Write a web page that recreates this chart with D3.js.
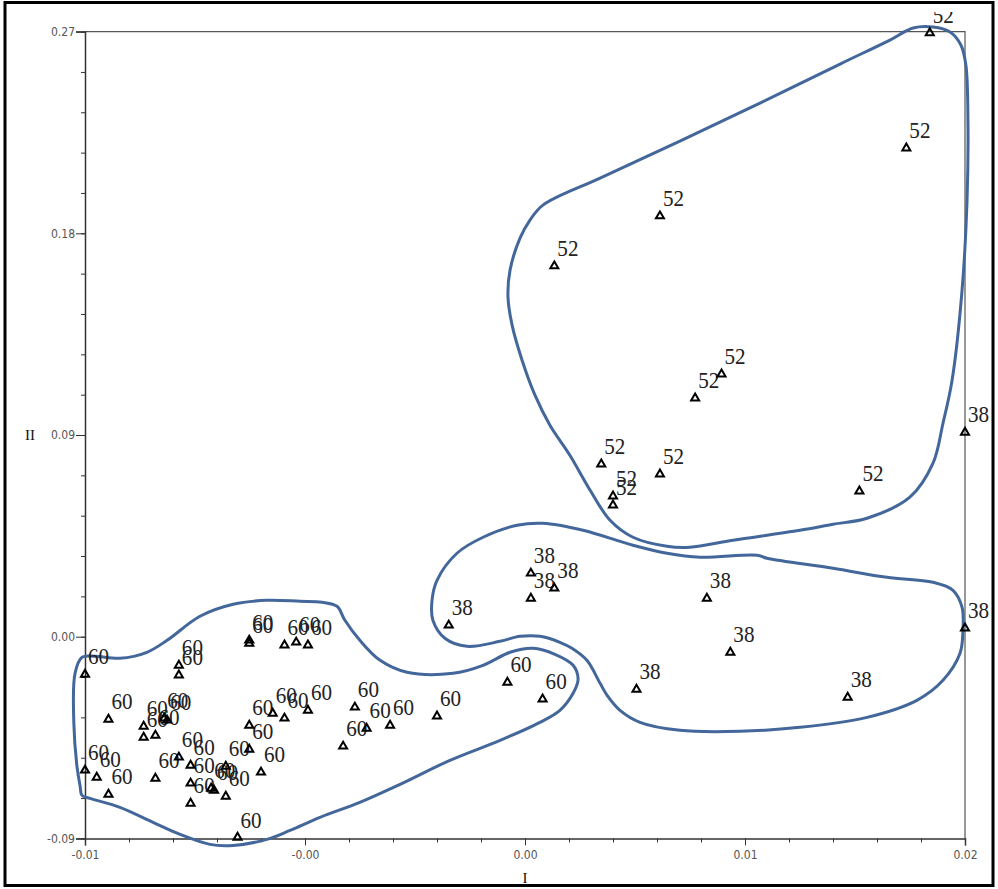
<!DOCTYPE html>
<html>
<head>
<meta charset="utf-8">
<script src="https://cdn.jsdelivr.net/npm/d3@7"></script>
<style>
  body { margin: 0; background: #fff; }
  .tick text { font-family: "Liberation Sans Narrow", "DejaVu Sans Condensed", sans-serif; font-size: 12px; fill: #555; }
  .axis path, .axis line { stroke: #333; }
  .lbl { font-family: "Liberation Serif", "DejaVu Serif", serif; font-size: 24px; fill: #222; }
  .title { font-family: "Liberation Serif", serif; font-size: 15px; fill: #111; }
</style>
</head>
<body>
<svg width="998" height="889"></svg>
<script>
// scores on axes I and II, grouped by label
var group60 = [
  [-0.0100, -0.0168], [-0.0092, -0.0369], [-0.0080, -0.0400], [-0.0080, -0.0449],
  [-0.0076, -0.0440], [-0.0073, -0.0364], [-0.0072, -0.0373], [-0.0068, -0.0128],
  [-0.0068, -0.0172], [-0.0100, -0.0596], [-0.0096, -0.0628], [-0.0092, -0.0704],
  [-0.0076, -0.0632], [-0.0068, -0.0538], [-0.0064, -0.0574], [-0.0064, -0.0654],
  [-0.0064, -0.0744], [-0.0056, -0.0686], [-0.0057, -0.0677], [-0.0052, -0.0579],
  [-0.0052, -0.0713], [-0.0044, -0.0396], [-0.0044, -0.0503], [-0.0040, -0.0605],
  [-0.0048, -0.0896], [-0.0044, -0.0016], [-0.0044, -0.0030], [-0.0036, -0.0342],
  [-0.0032, -0.0364], [-0.0024, -0.0329], [-0.0032, -0.0038], [-0.0028, -0.0025],
  [-0.0024, -0.0038], [-0.0008, -0.0315], [-0.0004, -0.0409], [0.0004, -0.0396],
  [0.0020, -0.0355], [-0.0012, -0.0489], [0.0044, -0.0204], [0.0056, -0.0279]
];
var group38 = [
  [0.0024, 0.0051], [0.0052, 0.0283], [0.0052, 0.0171], [0.0060, 0.0216],
  [0.0112, 0.0171], [0.0120, -0.0070], [0.0088, -0.0235], [0.0160, -0.0271],
  [0.0200, 0.0038], [0.0200, 0.0912]
];
var group52 = [
  [0.0188, 0.2694], [0.0180, 0.2180], [0.0096, 0.1877], [0.0060, 0.1654],
  [0.0117, 0.1171], [0.0108, 0.1064], [0.0076, 0.0770], [0.0096, 0.0725],
  [0.0080, 0.0627], [0.0080, 0.0587], [0.0164, 0.0649]
];

// hand-drawn cluster outlines, in axis units
var outline52 = [
  [0.01823, 0.27159], [0.01891, 0.27204], [0.01949, 0.26980], [0.01986, 0.26400],
  [0.02003, 0.25507], [0.02010, 0.23052], [0.02007, 0.19481], [0.01990, 0.15463],
  [0.01956, 0.11446], [0.01925, 0.09526], [0.01891, 0.07741], [0.01812, 0.06223],
  [0.01666, 0.05285], [0.01550, 0.05018], [0.01437, 0.04750], [0.01209, 0.04303],
  [0.01062, 0.03991], [0.00984, 0.04035], [0.00868, 0.04437], [0.00790, 0.05196],
  [0.00722, 0.06535], [0.00653, 0.08098], [0.00585, 0.09437], [0.00534, 0.10776],
  [0.00490, 0.12338], [0.00456, 0.13901], [0.00442, 0.15151], [0.00449, 0.16356],
  [0.00483, 0.17785], [0.00517, 0.18588], [0.00561, 0.19258], [0.00756, 0.20463],
  [0.01028, 0.22115], [0.01301, 0.23811], [0.01574, 0.25552], [0.01744, 0.26623]
];
var outline38 = [
  [0.00561, 0.05062], [0.00698, 0.04750], [0.00868, 0.04080], [0.00984, 0.03723],
  [0.01097, 0.03544], [0.01291, 0.03634], [0.01325, 0.03500], [0.01550, 0.03053],
  [0.01734, 0.02652], [0.01891, 0.02428], [0.01959, 0.02071], [0.01990, 0.01312],
  [0.01993, 0.00286], [0.01983, -0.00741], [0.01925, -0.01946], [0.01836, -0.02839],
  [0.01666, -0.03598], [0.01437, -0.04044], [0.01233, -0.04223], [0.01028, -0.04178],
  [0.00892, -0.03821], [0.00824, -0.03286], [0.00780, -0.02616], [0.00756, -0.02080],
  [0.00711, -0.01054], [0.00660, -0.00518], [0.00619, -0.00250], [0.00551, 0.00018],
  [0.00483, 0.00018], [0.00415, -0.00205], [0.00302, -0.00429], [0.00227, -0.00071],
  [0.00186, 0.00732], [0.00183, 0.01625], [0.00200, 0.02518], [0.00268, 0.03723],
  [0.00357, 0.04437], [0.00473, 0.04973]
];
var outline60 = [
  [-0.01010, -0.00920], [-0.00966, -0.00875], [-0.00881, -0.00964], [-0.00789, -0.00696],
  [-0.00720, -0.00161], [-0.00608, 0.00911], [-0.00495, 0.01446], [-0.00380, 0.01625],
  [-0.00267, 0.01580], [-0.00192, 0.01536], [-0.00141, 0.01357], [-0.00114, 0.00732],
  [-0.00063, -0.00161], [0.00006, -0.01054], [0.00098, -0.01589], [0.00255, -0.01634],
  [0.00357, -0.01277], [0.00449, -0.00696], [0.00527, -0.00518], [0.00602, -0.00786],
  [0.00664, -0.01277], [0.00681, -0.01902], [0.00664, -0.02527], [0.00619, -0.03286],
  [0.00551, -0.03821], [0.00415, -0.04625], [0.00244, -0.05518], [0.00074, -0.06589],
  [-0.00063, -0.07392], [-0.00199, -0.08062], [-0.00301, -0.08642], [-0.00380, -0.09044],
  [-0.00495, -0.09312], [-0.00574, -0.09267], [-0.00676, -0.08821], [-0.00768, -0.08285],
  [-0.00881, -0.07616], [-0.00983, -0.07214], [-0.01010, -0.07080], [-0.01017, -0.06634],
  [-0.01027, -0.05830], [-0.01038, -0.03866], [-0.01034, -0.01634]
];

var xTicks = [-0.01, -0.0025, 0.005, 0.0125, 0.02];
var xTickLabels = ["-0.01", "-0.00", "0.00", "0.01", "0.02"];
var yTicks = [0.27, 0.18, 0.09, 0.00, -0.09];
var yTickLabels = ["0.27", "0.18", "0.09", "0.00", "-0.09"];

var svg = d3.select("svg");

var x = d3.scaleLinear().domain([-0.01, 0.02]).range([85, 965]);
var y = d3.scaleLinear().domain([-0.09, 0.27]).range([838.4, 31.6]);

// outer frame
svg.append("rect")
  .attr("x", 5).attr("y", 2.5).attr("width", 988).attr("height", 883)
  .attr("fill", "none").attr("stroke", "#000").attr("stroke-width", 3);

// top and right frame of the plot
svg.append("path")
  .attr("d", "M" + x(-0.01) + "," + y(0.27) + "H" + x(0.02) + "V" + y(-0.09))
  .attr("fill", "none").attr("stroke", "#555").attr("stroke-width", 1.2);

// minor ticks
var xMinor = d3.range(0, 21).map(function(i) { return -0.01 + i * 0.0015; });
var yMinor = d3.range(0, 21).map(function(i) { return -0.09 + i * 0.018; });

svg.append("g").attr("class", "axis")
  .attr("transform", "translate(0," + y(-0.09) + ")")
  .call(d3.axisBottom(x).tickValues(xMinor).tickSize(4).tickFormat(""))
  .call(function(g) { g.select(".domain").remove(); });
svg.append("g").attr("class", "axis")
  .attr("transform", "translate(" + x(-0.01) + ",0)")
  .call(d3.axisLeft(y).tickValues(yMinor).tickSize(4).tickFormat(""))
  .call(function(g) { g.select(".domain").remove(); });

// main axes
var xAxis = svg.append("g").attr("class", "axis")
  .attr("transform", "translate(0," + y(-0.09) + ")")
  .call(d3.axisBottom(x).tickValues(xTicks).tickSizeOuter(0).tickSize(7).tickPadding(5)
    .tickFormat(function(d, i) { return xTickLabels[i]; }));
xAxis.select(".domain").attr("stroke-width", 1.5);

var yAxis = svg.append("g").attr("class", "axis")
  .attr("transform", "translate(" + x(-0.01) + ",0)")
  .call(d3.axisLeft(y).tickValues(yTicks).tickSizeOuter(0).tickSize(9).tickPadding(1)
    .tickFormat(function(d, i) { return yTickLabels[i]; }));
yAxis.select(".domain").attr("stroke-width", 1.5);

svg.append("text").attr("class", "title")
  .attr("x", x(0.005)).attr("y", 883).attr("text-anchor", "middle").text("I");
svg.append("text").attr("class", "title")
  .attr("x", 30).attr("y", y(0.09) + 5).attr("text-anchor", "middle").text("II");

// cluster outlines
var outline = d3.line()
  .x(function(d) { return x(d[0]); })
  .y(function(d) { return y(d[1]); })
  .curve(d3.curveCatmullRomClosed.alpha(0.5));

svg.append("g").selectAll("path")
  .data([outline52, outline38, outline60])
  .enter().append("path")
  .attr("d", outline)
  .attr("fill", "none")
  .attr("stroke", "#43679a")
  .attr("stroke-width", 3);

// points and their labels
var groups = [
  { name: "60", pts: group60 },
  { name: "38", pts: group38 },
  { name: "52", pts: group52 }
];

svg.append("defs").append("clipPath").attr("id", "lblclip")
  .append("rect").attr("x", 0).attr("y", 12).attr("width", 998).attr("height", 877);

var tri = d3.symbol().type(d3.symbolTriangle).size(28);
var labels = svg.append("g").attr("clip-path", "url(#lblclip)");
var marks = svg.append("g");

groups.forEach(function(gr) {
  labels.selectAll(null)
    .data(gr.pts)
    .enter().append("text")
    .attr("class", "lbl")
    .attr("transform", function(d) {
      return "translate(" + (x(d[0]) + 3) + "," + (y(d[1]) - 10) + ") scale(0.88,1)";
    })
    .text(gr.name);

  marks.selectAll(null)
    .data(gr.pts)
    .enter().append("path")
    .attr("d", tri)
    .attr("transform", function(d) { return "translate(" + x(d[0]) + "," + y(d[1]) + ")"; })
    .attr("fill", "none")
    .attr("stroke", "#000")
    .attr("stroke-width", 2);
});
</script>
</body>
</html>
